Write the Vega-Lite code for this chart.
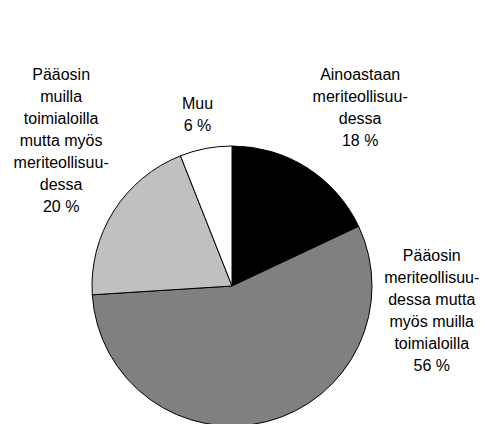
{
  "$schema": "https://vega.github.io/schema/vega-lite/v6.json",
  "autosize": {"type": "none"},
  "width": 464,
  "height": 276,
  "padding": {"left": 0, "top": 148, "right": 21, "bottom": 0},
  "background": "white",
  "config": {"view": {"stroke": null}},
  "data": {
    "values": [
      {"idx": 1, "category": "Ainoastaan meriteollisuudessa", "value": 18, "label": "Ainoastaan\nmeriteollisuu-\ndessa\n18 %"},
      {"idx": 2, "category": "Pääosin meriteollisuudessa mutta myös muilla toimialoilla", "value": 56, "label": "Pääosin\nmeriteollisuu-\ndessa mutta\nmyös muilla\ntoimialoilla\n56 %"},
      {"idx": 3, "category": "Pääosin muilla toimialoilla mutta myös meriteollisuudessa", "value": 20, "label": "Pääosin\nmuilla\ntoimialoilla\nmutta myös\nmeriteollisuu-\ndessa\n20 %"},
      {"idx": 4, "category": "Muu", "value": 6, "label": "Muu\n6 %"}
    ]
  },
  "layer": [
    {
      "mark": {"type": "arc", "radius": 140, "stroke": "#000000", "strokeWidth": 1},
      "encoding": {
        "theta": {"field": "value", "type": "quantitative", "stack": true, "scale": {"domain": [0, 100]}},
        "order": {"field": "idx", "type": "quantitative"},
        "color": {
          "field": "category",
          "type": "nominal",
          "legend": null,
          "scale": {
            "domain": ["Ainoastaan meriteollisuudessa", "Pääosin meriteollisuudessa mutta myös muilla toimialoilla", "Pääosin muilla toimialoilla mutta myös meriteollisuudessa", "Muu"],
            "range": ["#000000", "#808080", "#c0c0c0", "#ffffff"]
          }
        }
      }
    },
    {
      "transform": [
        {"stack": "value", "groupby": [], "sort": [{"field": "idx"}], "as": ["v0", "v1"]},
        {"calculate": "(datum.v0 + datum.v1) / 2", "as": "mid"},
        {"filter": "datum.idx == 1"}
      ],
      "mark": {"type": "text", "radius": 200, "dx": 21, "dy": -42, "align": "center", "baseline": "middle", "font": "Liberation Sans", "fontSize": 16, "lineHeight": 22, "lineBreak": "\n", "color": "#000000"},
      "encoding": {
        "theta": {"field": "mid", "type": "quantitative", "scale": {"domain": [0, 100]}},
        "text": {"field": "label", "type": "nominal"}
      }
    },
    {
      "transform": [
        {"stack": "value", "groupby": [], "sort": [{"field": "idx"}], "as": ["v0", "v1"]},
        {"calculate": "(datum.v0 + datum.v1) / 2", "as": "mid"},
        {"filter": "datum.idx == 2"}
      ],
      "mark": {"type": "text", "radius": 200, "dx": 150, "dy": -224, "align": "center", "baseline": "middle", "font": "Liberation Sans", "fontSize": 16, "lineHeight": 22, "lineBreak": "\n", "color": "#000000"},
      "encoding": {
        "theta": {"field": "mid", "type": "quantitative", "scale": {"domain": [0, 100]}},
        "text": {"field": "label", "type": "nominal"}
      }
    },
    {
      "transform": [
        {"stack": "value", "groupby": [], "sort": [{"field": "idx"}], "as": ["v0", "v1"]},
        {"calculate": "(datum.v0 + datum.v1) / 2", "as": "mid"},
        {"filter": "datum.idx == 3"}
      ],
      "mark": {"type": "text", "radius": 200, "dx": -2, "dy": -104, "align": "center", "baseline": "middle", "font": "Liberation Sans", "fontSize": 16, "lineHeight": 22, "lineBreak": "\n", "color": "#000000"},
      "encoding": {
        "theta": {"field": "mid", "type": "quantitative", "scale": {"domain": [0, 100]}},
        "text": {"field": "label", "type": "nominal"}
      }
    },
    {
      "transform": [
        {"stack": "value", "groupby": [], "sort": [{"field": "idx"}], "as": ["v0", "v1"]},
        {"calculate": "(datum.v0 + datum.v1) / 2", "as": "mid"},
        {"filter": "datum.idx == 4"}
      ],
      "mark": {"type": "text", "radius": 200, "dx": 3, "dy": 14, "align": "center", "baseline": "middle", "font": "Liberation Sans", "fontSize": 16, "lineHeight": 22, "lineBreak": "\n", "color": "#000000"},
      "encoding": {
        "theta": {"field": "mid", "type": "quantitative", "scale": {"domain": [0, 100]}},
        "text": {"field": "label", "type": "nominal"}
      }
    }
  ]
}
